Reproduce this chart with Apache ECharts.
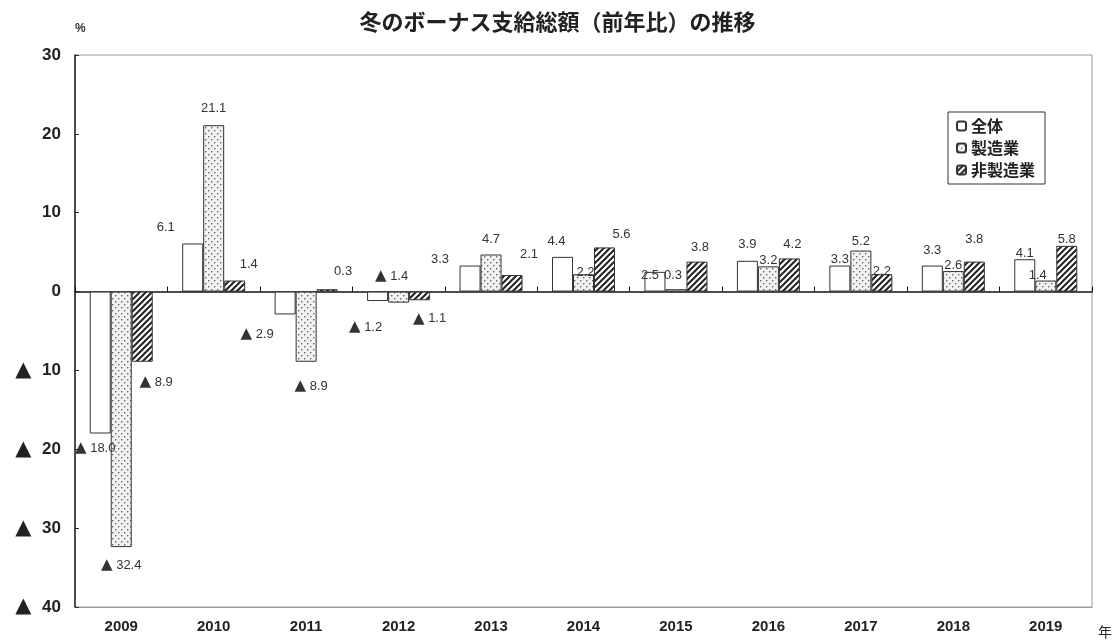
<!DOCTYPE html>
<html>
<head>
<meta charset="utf-8">
<script src="https://cdn.jsdelivr.net/npm/echarts@6/dist/echarts.min.js"></script>
<style>
html, body { margin: 0; padding: 0; background: #fff; }
#chart { width: 1115px; height: 643px; }
</style>
</head>
<body>
<div id="chart"></div>
<script>
// data (negative values are shown with ▲)
var years = ['2009', '2010', '2011', '2012', '2013', '2014', '2015', '2016', '2017', '2018', '2019'];
var seriesNames = ['全体', '製造業', '非製造業'];
var total = [-18.0, 6.1, -2.9, -1.2, 3.3, 4.4, 2.5, 3.9, 3.3, 3.3, 4.1];
var manufacturing = [-32.4, 21.1, -8.9, -1.4, 4.7, 2.2, 0.3, 3.2, 5.2, 2.6, 1.4];
var nonManufacturing = [-8.9, 1.4, 0.3, -1.1, 2.1, 5.6, 3.8, 4.2, 2.2, 3.8, 5.8];
var yMin = -40, yMax = 30, yStep = 10;

// hand-placed label nudges, as in the original sheet [dx, dy]
var nudgeTotal = [[-5, 2], [-27, -5], [-28, 7], [-12, 14], [-30, 5], [-6, -4], [-5, 15], [0, -5], [0, 5], [0, -4], [0, 6]];
var nudgeManu = [[0, 6], [0, -5], [5, 12], [-7, -39], [0, -4], [2, 10], [-3, -2], [0, 6], [0, 2], [0, 6], [-8, 6]];
var nudgeNonManu = [[14, 8], [14, -5], [16, -6], [10, 6], [17, -9], [17, -1], [3, -3], [3, -3], [0, 9], [0, -11], [0, 5]];

function makePattern(kind) {
    var c = document.createElement('canvas');
    c.width = 6; c.height = 6;
    var g = c.getContext('2d');
    g.fillStyle = kind === 'dots' ? '#f2f2f2' : '#ffffff';
    g.fillRect(0, 0, 6, 6);
    if (kind === 'dots') {
        g.fillStyle = '#666';
        g.fillRect(1, 1, 1.4, 1.4);
        g.fillRect(4, 4, 1.4, 1.4);
    } else {
        g.strokeStyle = '#222';
        g.lineWidth = 2;
        g.beginPath();
        g.moveTo(-1, 7); g.lineTo(7, -1);
        g.moveTo(-4, 4); g.lineTo(4, -4);
        g.moveTo(2, 10); g.lineTo(10, 2);
        g.stroke();
    }
    return { image: c, repeat: 'repeat' };
}

function fmt(v) {
    return v < 0 ? '{t|▲} ' + Math.abs(v).toFixed(1) : v.toFixed(1);
}

function buildData(vals, nudges) {
    var out = [];
    for (var i = 0; i < vals.length; i++) {
        out.push({
            value: vals[i],
            label: {
                position: vals[i] < 0 ? 'bottom' : 'top',
                offset: nudges[i]
            }
        });
    }
    return out;
}

var fills = ['#ffffff', makePattern('dots'), makePattern('hatch')];
var valueSets = [total, manufacturing, nonManufacturing];
var nudgeSets = [nudgeTotal, nudgeManu, nudgeNonManu];

var series = [];
for (var s = 0; s < seriesNames.length; s++) {
    series.push({
        name: seriesNames[s],
        type: 'bar',
        barWidth: 21,
        barGap: '0%',
        itemStyle: { color: fills[s], borderColor: '#333', borderWidth: 1 },
        label: {
            show: true,
            distance: 5,
            color: '#333',
            fontSize: 13,
            fontFamily: 'Liberation Sans, Arial, sans-serif',
            formatter: function (p) { return fmt(p.value); },
            rich: {
                t: { fontSize: 15, fontFamily: 'DejaVu Sans', color: '#333' }
            }
        },
        data: buildData(valueSets[s], nudgeSets[s])
    });
}

var chart = echarts.init(document.getElementById('chart'));
chart.setOption({
    animation: false,
    title: {
        text: '冬のボーナス支給総額（前年比）の推移',
        left: 'center',
        top: 6,
        textStyle: { fontSize: 22, fontWeight: 'bold', color: '#222', fontFamily: 'Noto Sans CJK JP' }
    },
    legend: {
        orient: 'vertical',
        left: 948,
        top: 112,
        data: seriesNames,
        itemWidth: 9,
        itemHeight: 9,
        itemGap: 6,
        padding: [6, 10, 6, 8],
        borderColor: '#333',
        borderWidth: 1,
        textStyle: { fontSize: 16, color: '#222', fontWeight: 'bold', fontFamily: 'Noto Sans CJK JP' }
    },
    grid: {
        left: 75, right: 22, top: 55, bottom: 36,
        show: true, borderColor: '#999', borderWidth: 1
    },
    xAxis: [{
        type: 'category',
        data: years,
        position: 'bottom',
        axisLine: { onZero: false, lineStyle: { color: '#999' } },
        axisTick: { show: false },
        axisLabel: { margin: 12, fontSize: 15, fontWeight: 'bold', color: '#222', fontFamily: 'Liberation Sans, Arial, sans-serif' },
        name: '年',
        nameLocation: 'end',
        nameGap: 6,
        nameTextStyle: { fontSize: 14, color: '#222', verticalAlign: 'top', padding: [18, 0, 0, 0], fontFamily: 'Noto Sans CJK JP' }
    }, {
        type: 'category',
        data: years,
        position: 'bottom',
        axisLine: { onZero: true, lineStyle: { color: '#111', width: 1.5 } },
        axisTick: { show: true, inside: true, length: 5, lineStyle: { color: '#111' } },
        axisLabel: { show: false }
    }],
    yAxis: {
        type: 'value',
        min: yMin,
        max: yMax,
        interval: yStep,
        name: '%',
        nameLocation: 'end',
        nameGap: 20,
        nameTextStyle: { fontSize: 12, fontWeight: 'bold', color: '#333', align: 'left' },
        axisLine: { show: true, lineStyle: { color: '#222', width: 1.5 } },
        axisTick: { show: true, inside: true, length: 4, lineStyle: { color: '#222' } },
        splitLine: { show: false },
        axisLabel: {
            margin: 14,
            fontSize: 17,
            fontWeight: 'bold',
            color: '#222',
            fontFamily: 'Liberation Sans, Arial, sans-serif',
            formatter: function (v) { return v < 0 ? '{t|▲} ' + Math.abs(v) : '' + v; },
            rich: {
                t: { fontSize: 21, fontFamily: 'DejaVu Sans', color: '#222', padding: [0, 6, 0, 0] }
            }
        }
    },
    series: series
});
</script>
</body>
</html>
